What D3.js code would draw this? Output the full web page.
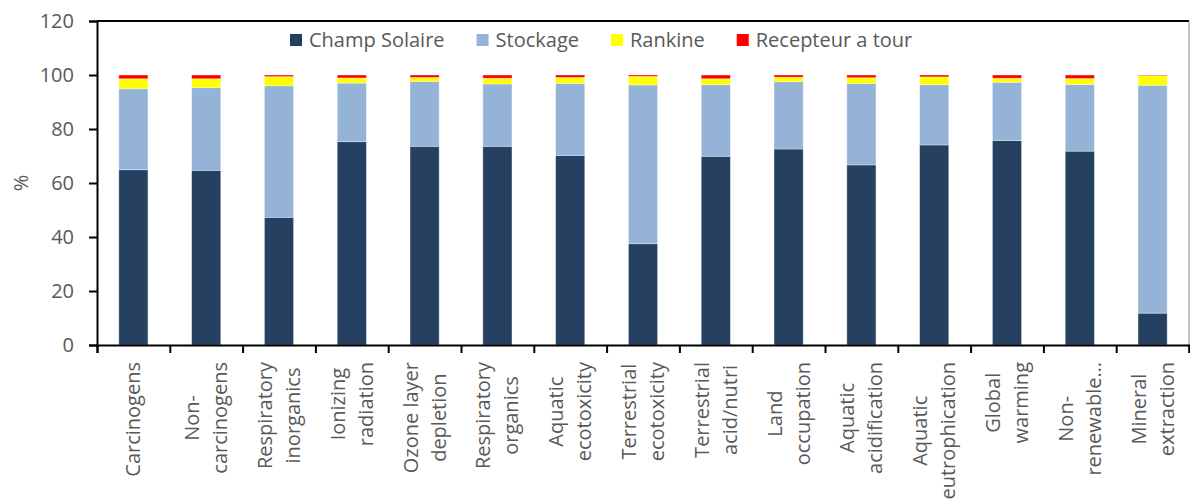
<!DOCTYPE html>
<html>
<head>
<meta charset="utf-8">
<script src="https://cdn.jsdelivr.net/npm/d3@7"></script>
<style>
  html, body { margin: 0; padding: 0; background: #fff; }
  svg { display: block; font-family: "Open Sans", sans-serif; }
</style>
</head>
<body>
<svg id="chart" width="1190" height="504"></svg>
<script>
// Impact categories (line breaks as shown under the axis)
const categories = [
  "Carcinogens",
  "Non-|carcinogens",
  "Respiratory|inorganics",
  "Ionizing|radiation",
  "Ozone layer|depletion",
  "Respiratory|organics",
  "Aquatic|ecotoxicity",
  "Terrestrial|ecotoxicity",
  "Terrestrial|acid/nutri",
  "Land|occupation",
  "Aquatic|acidification",
  "Aquatic|eutrophication",
  "Global|warming",
  "Non-|renewable…",
  "Mineral|extraction"
];

// Share of each subsystem, in %
const champSolaire = [64.9, 64.7, 47.3, 75.3, 73.6, 73.6, 70.2, 37.5, 69.9, 72.6, 66.7, 74.1, 75.7, 71.8, 11.8];
const stockage     = [30.0, 30.6, 48.7, 21.7, 24.0, 23.1, 26.7, 58.8, 26.5, 24.9, 30.1, 22.3, 21.6, 24.7, 84.4];
const rankine      = [ 3.7,  3.3,  3.4,  1.9,  1.5,  2.1,  2.2,  3.2,  2.2,  1.7,  2.2,  2.9,  1.5,  2.2,  3.6];
const recepteur    = [ 1.4,  1.4,  0.6,  1.1,  0.9,  1.2,  0.9,  0.5,  1.4,  0.8,  1.0,  0.7,  1.2,  1.3,  0.2];

const seriesNames = ["Champ Solaire", "Stockage", "Rankine", "Recepteur a tour"];
const seriesColors = ["#254061", "#95B3D7", "#FFFF00", "#FF0000"];
const yTicks = [0, 20, 40, 60, 80, 100, 120];

const textColor = "#595959";
const fontSize = 20;

const svg = d3.select("#chart");
const plotLeft = 97, plotRight = 1189, plotTop = 21, plotBottom = 345;

// Build table for stacking
const table = categories.map((c, i) => ({
  cat: c,
  "Champ Solaire": champSolaire[i],
  "Stockage": stockage[i],
  "Rankine": rankine[i],
  "Recepteur a tour": recepteur[i]
}));
const stacked = d3.stack().keys(seriesNames)(table);

const x = d3.scaleBand().domain(categories).range([plotLeft, plotRight])
  .paddingInner(0.6).paddingOuter(0.3);
const xEdges = d3.scaleLinear().domain([0, categories.length]).range([plotLeft, plotRight]);
const y = d3.scaleLinear().domain([0, 120]).range([plotBottom, plotTop]);

// Bars
svg.append("g").selectAll("g")
  .data(stacked)
  .join("g")
  .attr("fill", (d, i) => seriesColors[i])
  .selectAll("rect")
  .data(d => d)
  .join("rect")
  .attr("x", d => x(d.data.cat))
  .attr("width", x.bandwidth())
  .attr("y", d => y(d[1]))
  .attr("height", d => y(d[0]) - y(d[1]))
  .attr("stroke", "rgba(255,255,255,0.45)")
  .attr("stroke-width", 0.75);

// Plot frame: top and right edges
svg.append("line").attr("x1", plotLeft).attr("x2", plotRight).attr("y1", plotTop).attr("y2", plotTop)
  .attr("stroke", "#000").attr("stroke-width", 2);
svg.append("line").attr("x1", plotRight).attr("x2", plotRight).attr("y1", plotTop).attr("y2", plotBottom + 8)
  .attr("stroke", "#888").attr("stroke-width", 1);

// Y axis
const yAxis = svg.append("g").attr("transform", `translate(${plotLeft},0)`)
  .call(d3.axisLeft(y).tickValues(yTicks).tickSize(8).tickPadding(15).tickFormat(d3.format("d")));
yAxis.select(".domain").attr("stroke", "#000").attr("stroke-width", 2);
yAxis.selectAll(".tick line").attr("stroke", "#000").attr("stroke-width", 2);
yAxis.selectAll(".tick text").attr("fill", textColor)
  .style("font-size", fontSize + "px").style("font-family", "'Open Sans', sans-serif");

// X axis (ticks between categories)
const xAxis = svg.append("g").attr("transform", `translate(0,${plotBottom})`)
  .call(d3.axisBottom(xEdges).tickValues(d3.range(categories.length + 1)).tickSize(8).tickFormat(""));
xAxis.select(".domain").attr("stroke", "#000").attr("stroke-width", 2);
xAxis.selectAll(".tick line").attr("stroke", "#000").attr("stroke-width", 2);

// Category labels: rotated, lines centred inside a block hanging from the axis
const labelTop = 362, lineGap = 28;
categories.forEach(c => {
  const lines = c.split("|");
  const cx = x(c) + x.bandwidth() / 2;
  const g = svg.append("g").attr("transform", `translate(${cx},${labelTop}) rotate(-90)`);
  const texts = lines.map((ln, j) => g.append("text")
    .attr("y", 7 + (j - (lines.length - 1) / 2) * lineGap)
    .attr("text-anchor", "middle")
    .attr("fill", textColor)
    .style("font-size", fontSize + "px")
    .text(ln));
  const L = d3.max(texts, t => t.node().getComputedTextLength());
  texts.forEach(t => t.attr("x", -L / 2));
});

// Y axis title
svg.append("text")
  .attr("transform", "translate(28,183) rotate(-90)")
  .attr("text-anchor", "middle")
  .attr("fill", textColor)
  .style("font-size", fontSize + "px")
  .text("%");

// Legend
let lx = 290;
seriesNames.forEach((name, i) => {
  svg.append("rect").attr("x", lx).attr("y", 34).attr("width", 12).attr("height", 12)
    .attr("fill", seriesColors[i]);
  const t = svg.append("text").attr("x", lx + 19).attr("y", 47)
    .attr("fill", textColor).style("font-size", fontSize + "px").text(name);
  lx += 19 + t.node().getComputedTextLength() + 32;
});
</script>
</body>
</html>
